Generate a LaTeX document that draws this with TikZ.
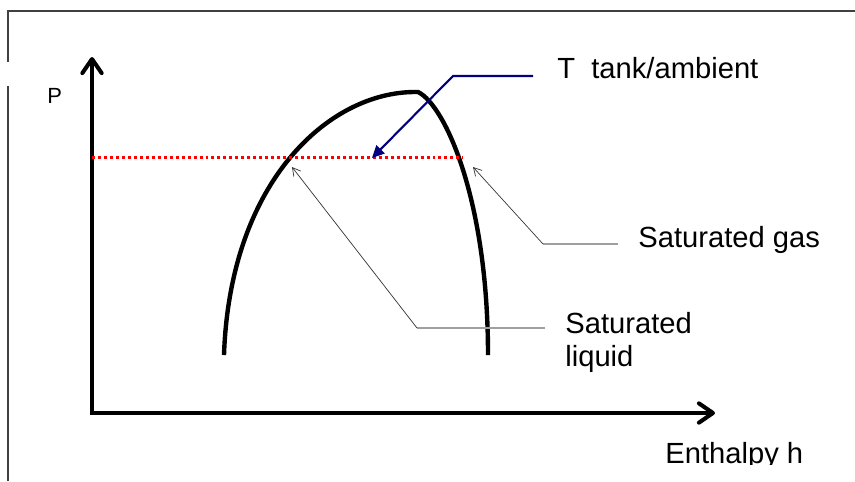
\documentclass[tikz,border=0pt]{standalone}
\usepackage{fontspec}
\setmainfont{Liberation Sans}
\usepackage{xcolor}
\usetikzlibrary{arrows.meta}
\definecolor{navyblue}{RGB}{0,0,128}
\tikzstyle{axis} = [line width=2.3pt, line join=miter, {Straight Barb[length=8pt,width=11pt,round]}-{Straight Barb[length=8pt,width=11pt,round]}]
\tikzstyle{pointer} = [line width=0.4pt, black!80, -{Straight Barb[length=4.5pt,width=5pt]}]

\begin{document}
\begin{tikzpicture}[x=0.02cm, y=-0.02cm,
    txt/.style={inner sep=0pt, font=\fontsize{16.6}{19}\selectfont},
    tick/.style={line width=0.9pt, gray!75},
    dome/.style={line width=2.5pt},
    isobar/.style={red, line width=1.7pt, dash pattern=on 1.7pt off 1.7pt},
    callout/.style={navyblue, line width=1.2pt, -{Triangle[length=7pt,width=6.5pt]}}]

    % Frame
    \useasboundingbox (0,0) rectangle (855,481);
    \draw[line width=0.9pt, black!75] (8,481) -- (8,86) (8,62) -- (8,11) -- (855,11);

    % Axes
    \coordinate (ytip) at (92,57);
    \coordinate (xtip) at (715,413);
    \draw[axis] (ytip) |- (xtip);
    \node[txt, font=\fontsize{12.5}{14}\selectfont, anchor=base west] (pres) at (47,103) {P};
    \begin{scope}
        \clip (600,420) rectangle (855,464);
        \node[txt, anchor=base west] (enth) at (665,463) {Enthalpy h};
    \end{scope}

    % Saturation dome
    \draw[dome] (224,355) .. controls (230,180) and (330,92) .. (415,92) -- (418,92)
        .. controls (445,105) and (488,200) .. (488,355);

    % Isobar
    \draw[isobar] (92,157) -- (463,157);

    % Labels
    \node[txt, anchor=base west] (tank) at (557,78) {T~~tank/ambient};
    \node[txt, anchor=base west] (gas) at (638,247) {Saturated gas};
    \node[txt, anchor=north west, align=left] (liq) at (565,312) {Saturated\\liquid};

    % Leaders
    \coordinate (tankknee) at (453,76);
    \coordinate (tankpt) at (372,158);
    \draw[callout] ([xshift=-0.48cm]tankknee -| tank.west) -- (tankknee) -- (tankpt);

    \coordinate (gasknee) at (543,244);
    \coordinate (gaspt) at (473,167);
    \draw[tick] ([xshift=-0.4cm]gasknee -| gas.west) -- (gasknee);
    \draw[pointer] (gasknee) -- (gaspt);

    \coordinate (liqknee) at (417,328);
    \coordinate (liqpt) at (292,167);
    \draw[tick] ([xshift=-0.4cm]liqknee -| liq.west) -- (liqknee);
    \draw[pointer] (liqknee) -- (liqpt);

\end{tikzpicture}
\end{document}
